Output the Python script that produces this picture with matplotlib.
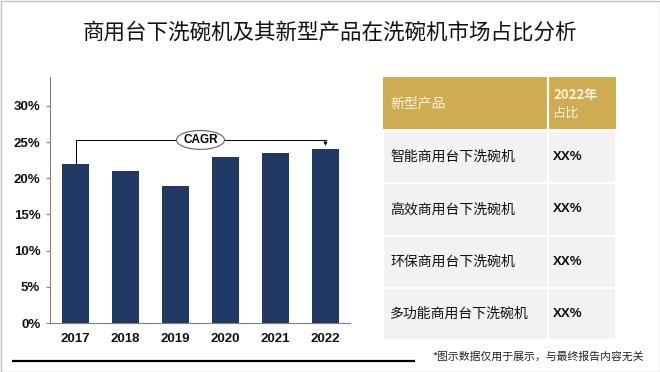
import matplotlib
matplotlib.use('Agg')
import matplotlib.pyplot as plt
from matplotlib.patches import Rectangle, Ellipse

plt.rcParams['font.family'] = ['Noto Sans CJK SC', 'DejaVu Sans']

# data
years = ['2017', '2018', '2019', '2020', '2021', '2022']
share = [22, 21, 19, 23, 23.5, 24]
yticks = [0, 5, 10, 15, 20, 25, 30]
products = ['智能商用台下洗碗机', '高效商用台下洗碗机', '环保商用台下洗碗机', '多功能商用台下洗碗机']
product_share = ['XX%', 'XX%', 'XX%', 'XX%']
header = ['新型产品', '2022年', '占比']
title = '商用台下洗碗机及其新型产品在洗碗机市场占比分析'
note = '*图示数据仅用于展示，与最终报告内容无关'

W, H = 660, 372
BAR = '#1F3864'
GOLD = '#CFAB52'
ROW = '#F2F2F2'

fig = plt.figure(figsize=(W / 100, H / 100), dpi=100)
fig.patch.set_facecolor('white')

def px(x0, y0, x1, y1):
    # pixel box (top-left origin) -> figure fraction rect
    return [x0 / W, 1 - y1 / H, (x1 - x0) / W, (y1 - y0) / H]

# bakground layer for lines / table
bg = fig.add_axes([0, 0, 1, 1])
bg.set_xlim(0, W)
bg.set_ylim(H, 0)
bg.axis('off')
bg.add_patch(Rectangle((0.5, 0.5), W - 1, H - 1, fill=False, ec='#BFBFBF', lw=1))
bg.text(330, 33, title, ha='center', va='center', fontsize=15.5, color='#111111')
bg.plot([12, 415], [361, 361], color='black', lw=1.6, solid_capstyle='butt')
bg.text(432, 357, note, ha='left', va='center', fontsize=7.8, color='#222222')

# table
tx0, tx1, tdiv = 383, 616, 548
row_edges = [77, 130, 183, 236, 288, 340]
bg.add_patch(Rectangle((tx0, row_edges[0]), tx1 - tx0, row_edges[1] - row_edges[0], fc=GOLD, ec='none'))
for i in range(len(products)):
    y0, y1 = row_edges[i + 1], row_edges[i + 2]
    bg.add_patch(Rectangle((tx0, y0), tx1 - tx0, y1 - y0, fc=ROW, ec='white', lw=1.5))
    yc = (y0 + y1) / 2
    bg.text(390, yc, products[i], ha='left', va='center', fontsize=10, color='#111111')
    bg.text(553, yc, product_share[i], ha='left', va='center', fontsize=9.5,
            fontweight='bold', family=['Liberation Sans', 'DejaVu Sans'], color='#111111')
bg.plot([tdiv, tdiv], [row_edges[0], row_edges[-1]], color='white', lw=1.5)
bg.plot([tx0, tx1], [row_edges[1], row_edges[1]], color='white', lw=2)
hdr_col = '#FBF3DF'
bg.text(390, 103, header[0], ha='left', va='center', fontsize=10, color=hdr_col)
bg.text(553, 95, header[1], ha='left', va='center', fontsize=9.5, color=hdr_col,
        fontweight='bold')
bg.text(553, 113, header[2], ha='left', va='center', fontsize=9.5, color=hdr_col)

# bar chart
ax = fig.add_axes(px(50, 77, 350, 323))
x = list(range(len(years)))
ax.bar(x, share, width=0.55, color=BAR, zorder=2)
ax.set_xlim(-0.51, len(years) - 0.51)
ax.set_ylim(0, 34)
ax.set_yticks(yticks)
ax.set_yticklabels([f'{v}%' for v in yticks])
ax.set_xticks(x)
ax.set_xticklabels(years)
for lab in ax.get_xticklabels() + ax.get_yticklabels():
    lab.set_fontweight('bold')
    lab.set_family(['Liberation Sans', 'DejaVu Sans'])
    lab.set_fontsize(9.5)
    lab.set_color('#111111')
ax.tick_params(axis='x', length=0, pad=7)
ax.tick_params(axis='y', length=3, color='#808080', pad=4)
for s in ['top', 'right']:
    ax.spines[s].set_visible(False)
ax.spines['left'].set_color('#808080')
ax.spines['bottom'].set_color('#808080')
ax.set_facecolor('none')

# CAGR bracket
top = 25.3
ax.plot([x[0], x[0], x[-1]], [share[0], top, top], color='black', lw=0.7, zorder=3)
ax.annotate('', xy=(x[-1], share[-1] + 0.1), xytext=(x[-1], top),
            arrowprops=dict(arrowstyle='-|>', color='black', lw=0.7, mutation_scale=5), zorder=3)
ax.add_patch(Ellipse((2.5, top), 0.96, 2.6, fc='white', ec='#606060', lw=0.8, zorder=4))
ax.text(2.5, top, 'CAGR', ha='center', va='center', fontsize=8.5, fontweight='bold',
        family=['Liberation Sans', 'DejaVu Sans'], zorder=5)

fig.savefig('out.png', dpi=100)
